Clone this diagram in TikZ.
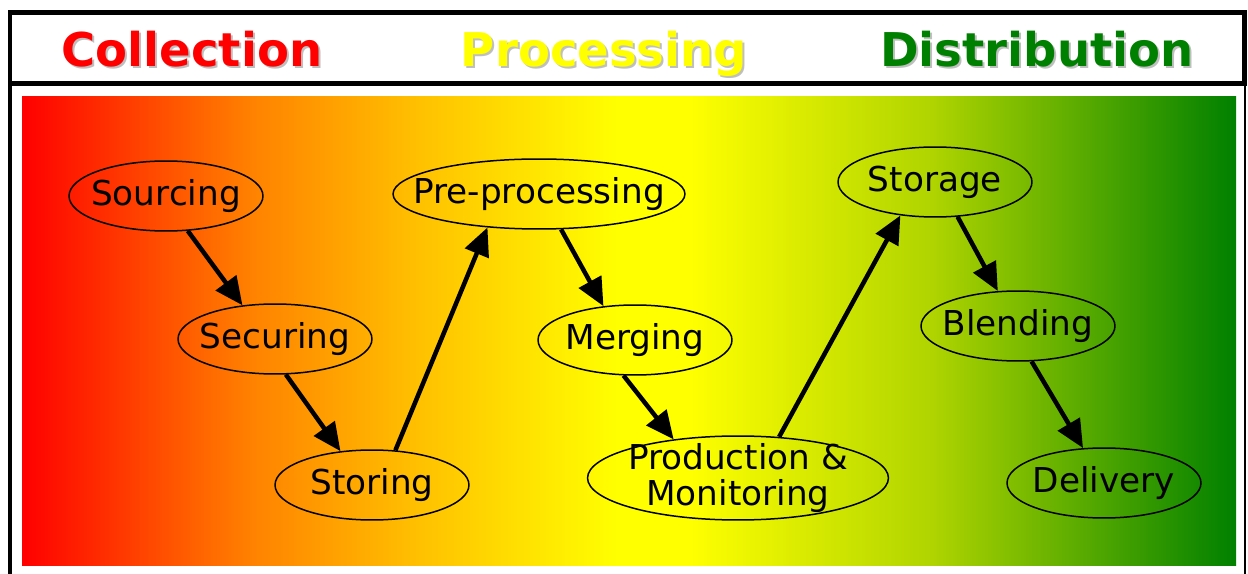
\documentclass[tikz,border=0pt]{standalone}
\usepackage{fontspec}
\setmainfont{DejaVu Sans}
\usetikzlibrary{shapes.geometric,arrows.meta}

\definecolor{stagered}{RGB}{255,0,0}
\definecolor{stageorange}{RGB}{255,130,0}
\definecolor{stageamber}{RGB}{255,190,0}
\definecolor{stageyellow}{RGB}{255,255,0}
\definecolor{stagelime}{RGB}{175,212,0}
\definecolor{stagegreen}{RGB}{0,128,0}
\pgfdeclarehorizontalshading{stagegrad}{100bp}{color(0bp)=(stagered); color(25bp)=(stagered); color(34.5bp)=(stageorange); color(41bp)=(stageamber); color(49.5bp)=(stageyellow); color(52.5bp)=(stageyellow); color(62.5bp)=(stagelime); color(75bp)=(stagegreen); color(100bp)=(stagegreen)}

\tikzset{%
	stage/.style={
		ellipse,
		draw=black,
		line width=0.03cm,
		inner xsep=-0.6cm,
		inner ysep=-0.1cm,
		minimum width=3.88cm,
		minimum height=1.4cm,
		align=center,
		font=\fontsize{19.5}{20}\selectfont
	},
	flow/.style={
		line width=0.09cm,
		-{Triangle[length=0.56cm,width=0.5cm]}
	},
	phase/.style={
		anchor=base,
		font=\fontsize{26.5}{30}\selectfont\bfseries
	},
	phase shadow/.style={phase, text=black!25},
	frame/.style={line width=0.1cm},
}

\begin{document}
\begin{tikzpicture}[x=0.02cm,y=-0.02cm]
		\useasboundingbox (0,0) rectangle (1248,574);
		\clip (0,0) rectangle (1248,574);
		
		% Frame and background
		\draw[frame] (10,12.5) rectangle (1244.5,84);
		\draw[frame] (10,84) -- (10,600);
		\draw[line width=0.04cm] (1244.5,84) -- (1244.5,600);
		\shade[shading=stagegrad] (22,97) rectangle (1236,565);
		
		% Phases
		\node[phase shadow] (collection-s) at (194,69) {Collection};
		\node[phase, text=stagered] (collection) at (192,67) {Collection};
		\node[phase shadow] (processing-s) at (606,69) {Processing};
		\node[phase, text=stageyellow] (processing) at (604,67) {Processing};
		\node[phase shadow] (distribution-s) at (1039,69) {Distribution};
		\node[phase, text=stagegreen] (distribution) at (1037,67) {Distribution};
		
		% Stages
		\node[stage] (sourcing) at (166,196) {Sourcing};
		\node[stage] (securing) at (275,339) {Securing};
		\node[stage] (storing) at (372,485) {Storing};
		\node[stage, minimum width=5.84cm] (preprocessing) at (539,194) {Pre-processing};
		\node[stage] (merging) at (635,340) {Merging};
		\node[stage, minimum width=6.02cm, minimum height=1.68cm] (production) at (738,478) {Production \&\\Monitoring};
		\node[stage] (storage) at (935,182) {Storage};
		\node[stage] (blending) at (1018,326) {Blending};
		\node[stage] (delivery) at (1104,483) {Delivery};
		
		% Arrows
		\foreach \a/\b in {sourcing.-58/securing.134, securing.-73/storing.133,
			storing.56/preprocessing.213, preprocessing.-58/merging.133,
			merging.-108/production.149, production.45/storage.-136,
			storage.-57/blending.120, blending.-69/delivery.121}
		\draw[flow] (\a) -- (\b);
		
\end{tikzpicture}
\end{document}
